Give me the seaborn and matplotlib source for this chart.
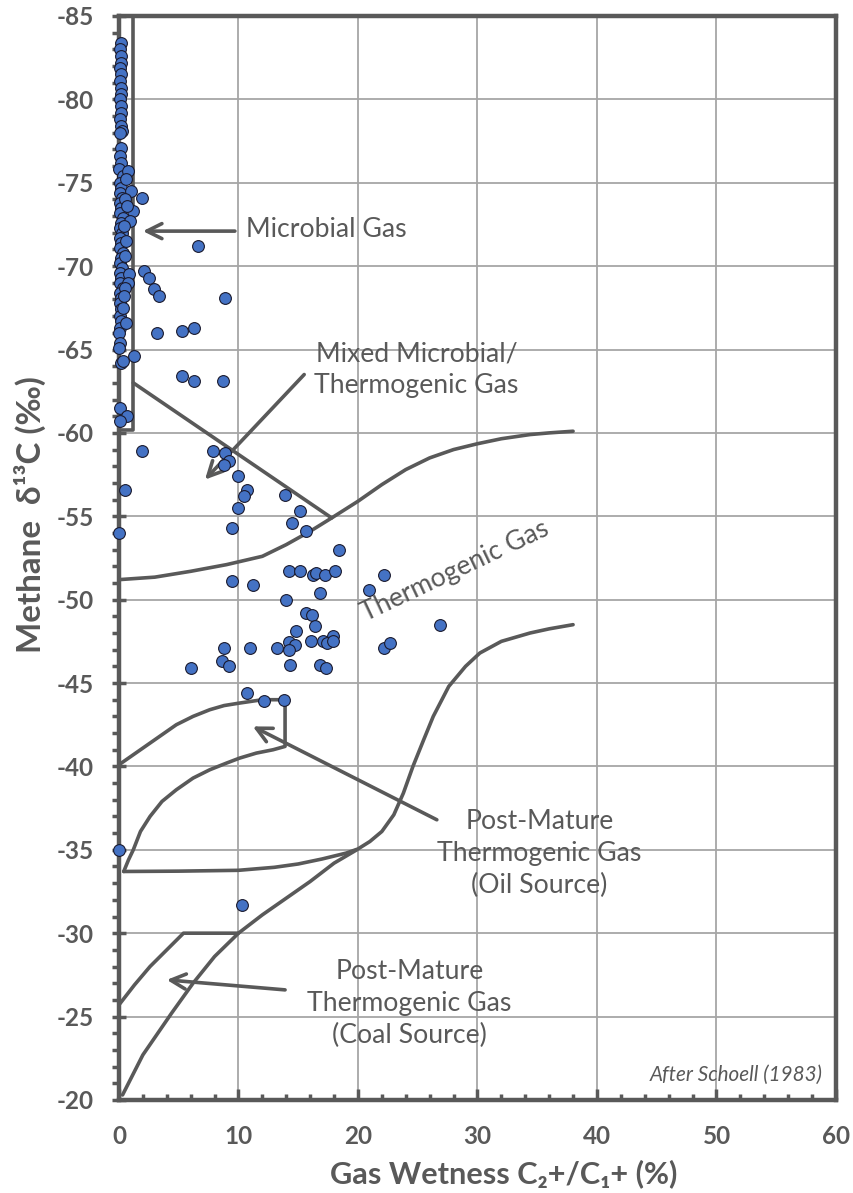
import numpy as np
import pandas as pd
import matplotlib
matplotlib.use("Agg")
import matplotlib.pyplot as plt
from matplotlib.ticker import MultipleLocator
import seaborn as sns

# Sample measurements: gas wetness C2+/C1+ (%) and methane d13C (permil)
wetness = [
    0.15, 0.1, 0.2, 0.15, 0.1, 0.2, 0.1, 0.2, 0.15, 0.1, 0.2, 0.15, 0.1, 0.2, 0.25, 0.05,
    0.15, 0.1, 0.2, 0.0, 0.3, 0.1, 0.2, 0.05, 0.25, 0.1, 0.2, 0.05, 0.3, 0.15, 0.05, 0.25,
    0.1, 0.2, 0.05, 0.3, 0.15, 0.05, 0.25, 0.1, 0.2, 0.05, 0.3, 0.1, 0.2, 0.05, 0.15, 0.1,
    0.2, 0.05, 0.0, 0.08, 0.02, 0.14, 0.3, 0.08, 0.64, 0.08,
    0.73, 0.98, 1.2, 0.92, 0.6, 0.5, 0.7, 0.45, 0.6, 0.5, 0.86, 0.78, 0.5, 0.45, 0.35, 0.59,
    1.26, 0.47, 0.0, 0.0,
    1.92, 6.64, 2.09, 2.54, 2.93, 3.35, 8.9, 3.15, 5.27, 6.28, 5.27, 6.28, 8.73, 1.92, 7.84,
    8.84, 9.23, 8.79, 10.0, 10.7, 10.5, 13.87, 9.99, 15.15, 14.5, 15.65, 9.43, 18.4, 14.25,
    15.15, 16.2, 16.5, 17.2, 18.1, 22.2, 9.48, 11.2, 20.9, 16.8, 14.0, 15.65, 16.15, 16.4,
    14.8, 26.9, 17.9, 8.8, 10.96, 13.2, 14.2, 14.7, 14.2, 16.1, 17.1, 17.4, 17.9, 22.2, 22.7,
    6.0, 8.6, 9.23, 14.3, 16.8, 17.3, 10.7, 12.1, 13.8, 10.3,
]
d13c = [
    -83.4, -83.0, -82.6, -82.2, -81.9, -81.5, -81.1, -80.7, -80.3, -80.0, -79.6, -79.2, -78.8,
    -78.4, -78.1, -78.0, -77.1, -76.6, -76.2, -75.8, -75.4, -75.0, -74.7, -74.4, -74.1, -73.8,
    -73.5, -73.2, -72.9, -72.6, -72.3, -72.0, -71.7, -71.4, -71.1, -70.8, -70.5, -70.2, -69.9,
    -69.6, -69.3, -69.0, -68.7, -68.4, -68.1, -67.8, -67.4, -67.0, -66.7, -66.3, -66.0, -65.4,
    -65.1, -64.2, -64.3, -61.5, -61.0, -60.7,
    -75.7, -74.5, -73.3, -72.7, -75.2, -74.0, -73.6, -72.4, -71.5, -70.6, -69.5, -69.0, -68.7,
    -68.2, -67.5, -66.6, -64.6, -56.6, -54.0, -35.0,
    -74.1, -71.2, -69.7, -69.3, -68.6, -68.2, -68.1, -66.0, -66.1, -66.3, -63.4, -63.1, -63.1,
    -58.9, -58.9, -58.8, -58.3, -58.05, -57.4, -56.6, -56.2, -56.3, -55.5, -55.3, -54.6, -54.1,
    -54.3, -53.0, -51.7, -51.7, -51.5, -51.6, -51.5, -51.7, -51.5, -51.1, -50.9, -50.6, -50.4,
    -49.95, -49.2, -49.1, -48.4, -48.1, -48.5, -47.8, -47.1, -47.1, -47.1, -47.45, -47.3, -47.0,
    -47.5, -47.5, -47.4, -47.5, -47.1, -47.4, -45.9, -46.3, -46.0, -46.1, -46.1, -45.9, -44.4,
    -43.9, -44.0, -31.7,
]

# Genetic field boundaries (Schoell-type diagram)
microbial_box_x = [1.2, 1.2, 0.0]
microbial_box_y = [-85.0, -60.2, -60.2]

mixed_x = [1.2, 17.8]
mixed_y = [-63.0, -54.9]

thermo_upper_x = [0, 3, 6, 9, 12, 14, 16, 17.8, 20, 22, 24, 26, 28, 30, 32, 34.4, 36, 38]
thermo_upper_y = [-51.2, -51.35, -51.7, -52.1, -52.6, -53.3, -54.1, -54.9, -55.9, -56.9,
                  -57.8, -58.5, -59.0, -59.35, -59.65, -59.9, -60.0, -60.1]

thermo_lower_x = [0.4, 5, 10, 13, 15, 17, 19, 20, 21, 22, 23, 23.8, 24.6, 25.5, 26.3, 27.6,
                  28.3, 29, 30.2, 32, 34.4, 36, 38]
thermo_lower_y = [-33.7, -33.72, -33.77, -33.95, -34.15, -34.45, -34.8, -35.05, -35.5, -36.1,
                  -37.1, -38.4, -40.0, -41.6, -43.0, -44.8, -45.4, -46.0, -46.8, -47.5, -48.0,
                  -48.25, -48.5]

oil_x = [0.4, 0.8, 1.2, 1.8, 2.6, 3.6, 4.8, 6.2, 7.6, 9, 10.1, 11.5, 12.9, 13.9,
         13.9, 12.0, 10.1, 8.8, 7.6, 6.2, 4.8, 2.6, 0.0]
oil_y = [-33.7, -34.4, -35.0, -36.1, -37.0, -37.9, -38.6, -39.3, -39.8, -40.2, -40.5, -40.8,
         -41.0, -41.2, -44.0, -44.0, -43.8, -43.65, -43.4, -43.0, -42.5, -41.4, -40.1]

coal_upper_x = [0.0, 1.3, 2.6, 4.0, 5.4, 10.0]
coal_upper_y = [-25.7, -26.9, -28.0, -29.0, -30.0, -30.0]

coal_lower_x = [0.3, 2, 4.4, 6.2, 8, 10, 12, 14, 16, 18, 19.9]
coal_lower_y = [-20.3, -22.7, -25.2, -27.0, -28.6, -30.0, -31.1, -32.1, -33.1, -34.2, -35.0]

x_ticks = [0, 10, 20, 30, 40, 50, 60]
y_ticks = [-85, -80, -75, -70, -65, -60, -55, -50, -45, -40, -35, -30, -25, -20]

GRAY = "#595959"
BLUE = "#4472C4"

sns.set_theme(style="white")
plt.rcParams["font.family"] = ["Lato", "DejaVu Sans"]
plt.rcParams["axes.unicode_minus"] = False

fig = plt.figure(figsize=(8.54, 11.93), dpi=100)
ax = fig.add_axes([0.1393, 0.0780, 0.8396, 0.9086])
renderer = fig.canvas.get_renderer()


def size_for_width(text, width_px, **kw):
    """Font size at which `text` renders `width_px` pixels wide."""
    probe = fig.text(0, 0, text, fontsize=20, **kw)
    w = probe.get_window_extent(renderer).width
    probe.remove()
    return 20 * width_px / w


df = pd.DataFrame({"wetness": wetness, "d13c": d13c})

# boundary lines
for bx, by in [(microbial_box_x, microbial_box_y), (mixed_x, mixed_y),
               (thermo_upper_x, thermo_upper_y), (thermo_lower_x, thermo_lower_y),
               (oil_x, oil_y), (coal_upper_x, coal_upper_y), (coal_lower_x, coal_lower_y)]:
    sns.lineplot(x=bx, y=by, sort=False, estimator=None, color=GRAY, lw=2.6, ax=ax,
                 zorder=3)

sns.scatterplot(data=df, x="wetness", y="d13c", ax=ax, s=72, color=BLUE,
                edgecolor="#1a1a2e", linewidth=0.8, zorder=6, legend=False)
for coll in ax.collections:
    coll.set_clip_on(False)

ax.set_xlim(0, 60)
ax.set_ylim(-20, -85)
ax.xaxis.set_minor_locator(MultipleLocator(2))
ax.yaxis.set_minor_locator(MultipleLocator(1))
ax.set_xticks(x_ticks)
ax.set_xticklabels([str(v) for v in x_ticks], fontweight="bold", fontsize=17.5, color=GRAY)
ax.set_yticks(y_ticks)
ax.set_yticklabels([str(v) for v in y_ticks], fontweight="bold", fontsize=17.5, color=GRAY)
ax.grid(True, which="major", color="#a6a6a6", lw=1.3)
ax.set_axisbelow(True)

for sp in ax.spines.values():
    sp.set_color(GRAY)
    sp.set_linewidth(3.2)
    sp.set_visible(True)

ax.tick_params(axis="x", which="major", direction="in", length=8, width=2.5, color=GRAY,
               pad=18, bottom=True)
ax.tick_params(axis="x", which="minor", direction="in", length=4.5, width=2.5, color=GRAY,
               bottom=True)
ax.tick_params(axis="y", which="major", direction="inout", length=10, width=2.5, color=GRAY,
               pad=13, left=True)
ax.tick_params(axis="y", which="minor", direction="out", length=5, width=2.5, color=GRAY,
               left=True)

ax.set_xlabel("")
ax.set_ylabel("")
xlab = "Gas Wetness C\u2082+/C\u2081+ (%)"
fig.text(0.5902, 1 - 1183 / 1193, xlab, ha="center", va="baseline",
         fontsize=size_for_width(xlab, 348, fontweight="bold"), fontweight="bold",
         color=GRAY)
fig.text(0.0351, 1 - 653 / 1193, "Methane  \u03b4\u00b9\u00b3C (\u2030)", ha="center",
         va="bottom", rotation=90,
         fontsize=size_for_width("Methane", 133, fontweight="bold"), fontweight="bold",
         color=GRAY)

# field labels
field_size = size_for_width("Mixed Microbial/", 202)
txt = dict(color=GRAY, fontsize=field_size)
ax.text(10.6, -72.2, "Microbial Gas", ha="left", va="center", **txt)
ax.text(24.9, -63.8, "Mixed Microbial/\nThermogenic Gas", ha="center", va="center",
        linespacing=1.3, **txt)
ax.text(28.1, -51.7, "Thermogenic Gas", ha="center", va="center", rotation=25.3,
        rotation_mode="anchor", **txt)
ax.text(35.2, -34.8, "Post-Mature\nThermogenic Gas\n(Oil Source)", ha="center",
        va="center", linespacing=1.35, **txt)
ax.text(24.3, -25.8, "Post-Mature\nThermogenic Gas\n(Coal Source)", ha="center",
        va="center", linespacing=1.35, **txt)
ax.text(58.9, -21.5, "After Schoell (1983)", ha="right", va="center",
        fontsize=size_for_width("After Schoell (1983)", 173, style="italic"),
        style="italic", color=GRAY)

arrow = dict(arrowstyle="->,head_length=0.9,head_width=0.45", color=GRAY, lw=2.6,
             shrinkA=0, shrinkB=0)
ax.annotate("", xy=(2.0, -72.1), xytext=(9.7, -72.1), arrowprops=arrow, zorder=4)
ax.annotate("", xy=(7.2, -57.2), xytext=(15.5, -63.5), arrowprops=arrow, zorder=4)
ax.annotate("", xy=(11.2, -42.4), xytext=(26.6, -36.8), arrowprops=arrow, zorder=4)
ax.annotate("", xy=(4.0, -27.2), xytext=(13.9, -26.6), arrowprops=arrow, zorder=4)

fig.savefig("out.png", dpi=100, facecolor="white")
